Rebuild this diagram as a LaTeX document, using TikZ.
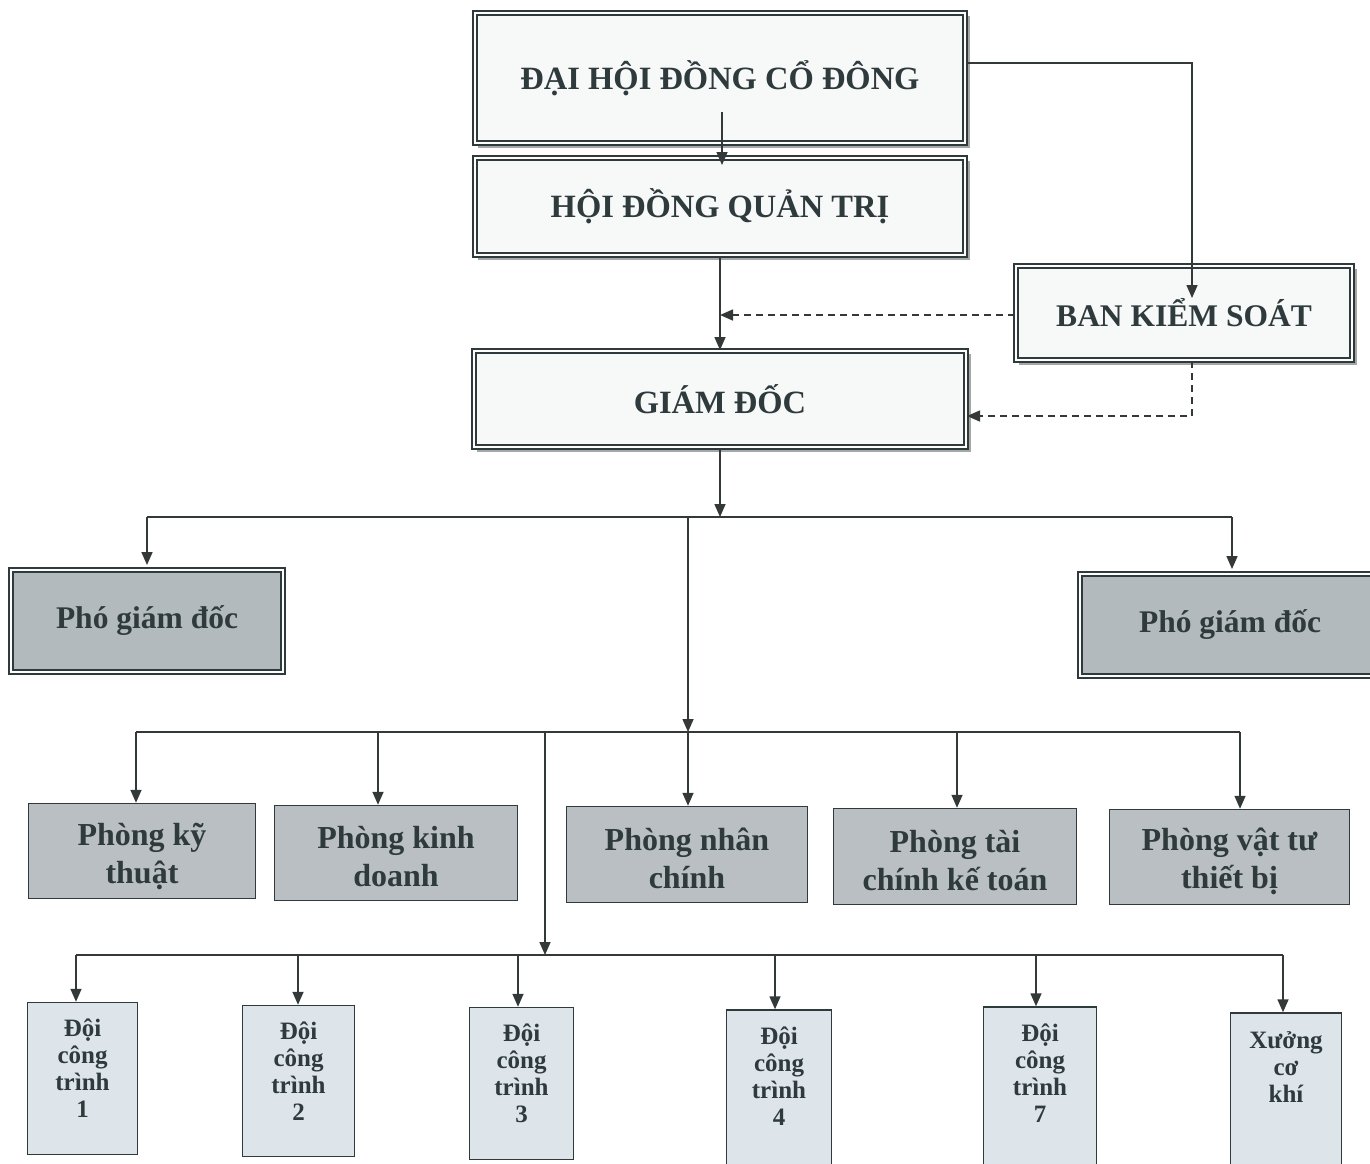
\documentclass[tikz,border=0pt]{standalone}
\usepackage{fontspec}
\setmainfont{Liberation Serif}
\usetikzlibrary{arrows.meta,calc,shadows}
\definecolor{ink}{HTML}{2E3A3C}
\definecolor{linec}{HTML}{333838}
\definecolor{topfill}{HTML}{F7F8F8}
\definecolor{pgdfill}{HTML}{B3BABD}
\definecolor{phfill}{HTML}{B9BFC2}
\definecolor{doifill}{HTML}{DDE5EA}
\begin{document}
\begin{tikzpicture}[x=1pt,y=-1pt,
  every node/.style={text=ink},
  dblbox/.style={draw=ink, inner sep=0pt, align=center, line width=2pt, double=white, double distance=2.4pt},
  topbox/.style={dblbox, fill=topfill, copy shadow={shadow xshift=4pt, shadow yshift=-4pt, draw=gray!70, line width=2pt, fill=white}, font=\fontsize{32.5}{36}\selectfont\bfseries},
  pgdbox/.style={dblbox, fill=pgdfill, font=\fontsize{31.5}{36}\selectfont\bfseries},
  phbox/.style={draw=ink, line width=1.5pt, fill=phfill, inner sep=0pt},
  phtext/.style={inner sep=0pt, align=center, font=\fontsize{32}{38}\selectfont\bfseries},
  doibox/.style={draw=ink, line width=1.5pt, fill=doifill, inner sep=0pt},
  doitext/.style={anchor=north, inner sep=0pt, align=center, font=\fontsize{25}{27}\selectfont\bfseries},
  conn/.style={draw=linec, line width=1.6pt},
  arr/.style={conn, -{Triangle[length=13pt,width=11pt]}},
  dsh/.style={dash pattern=on 7pt off 5pt}]
\useasboundingbox (0,0) rectangle (1370,1163);
\clip (0,0) rectangle (1370,1163);
\fill[white] (0,0) rectangle (1370,1163);

% top boxes
\node[topbox, minimum width=490, minimum height=130] (dh) at (720,78) {ĐẠI HỘI ĐỒNG CỔ ĐÔNG};
\node[topbox, minimum width=490, minimum height=97] (hd) at (720,206.5) {HỘI ĐỒNG QUẢN TRỊ};
\node[topbox, minimum width=336, minimum height=94, font=\fontsize{31.5}{36}\selectfont\bfseries] (bks) at (1184,313) {BAN KIỂM SOÁT};
\node[topbox, minimum width=492, minimum height=96] (gd) at (720,399) {GIÁM ĐỐC};

% pho giam doc
\node[pgdbox, minimum width=272, minimum height=102] (pgd1) at (147,621) {Phó giám đốc};
\node[pgdbox, minimum width=300, minimum height=102] (pgd2) at (1230,625) {Phó giám đốc};

% phong
\node[phbox, minimum width=227, minimum height=95] (pk1) at (142,851) {};
\node[phbox, minimum width=243, minimum height=95] (pk2) at (396,853) {};
\node[phbox, minimum width=241, minimum height=96] (pk3) at (687,854.5) {};
\node[phbox, minimum width=243, minimum height=96] (pk4) at (955,856.5) {};
\node[phbox, minimum width=240, minimum height=95] (pk5) at (1229.5,857) {};
\node[phtext] (pk1t) at ($(pk1.center)+(0,5)$) {Phòng kỹ\\thuật};
\node[phtext] (pk2t) at ($(pk2.center)+(0,4)$) {Phòng kinh\\doanh};
\node[phtext] (pk3t) at ($(pk3.center)+(0,4)$) {Phòng nhân\\chính};
\node[phtext] (pk4t) at ($(pk4.center)+(0,4)$) {Phòng tài\\chính kế toán};
\node[phtext] (pk5t) at ($(pk5.center)+(0,4)$) {Phòng vật tư\\thiết bị};

% doi
\node[doibox, minimum width=110, minimum height=152] (d1) at (82.5,1078.5) {};
\node[doibox, minimum width=112, minimum height=151] (d2) at (298.5,1081) {};
\node[doibox, minimum width=104, minimum height=152] (d3) at (521.5,1083.5) {};
\node[doibox, minimum width=105, minimum height=160] (d4) at (779,1090) {};
\node[doibox, minimum width=113, minimum height=163] (d7) at (1040,1088.5) {};
\node[doibox, minimum width=111, minimum height=157] (xck) at (1286,1091.5) {};
\node[doitext] (d1t) at ($(d1.north)+(0,17)$) {Đội\\công\\trình\\1};
\node[doitext] (d2t) at ($(d2.north)+(0,17)$) {Đội\\công\\trình\\2};
\node[doitext] (d3t) at ($(d3.north)+(0,17)$) {Đội\\công\\trình\\3};
\node[doitext] (d4t) at ($(d4.north)+(0,17)$) {Đội\\công\\trình\\4};
\node[doitext] (d7t) at ($(d7.north)+(0,17)$) {Đội\\công\\trình\\7};
\node[doitext] (xckt) at ($(xck.north)+(0,19)$) {Xưởng\\cơ\\khí};

% top connectors
\draw[arr] ($(dh.center)+(2,34)$) -- ($(hd.north)+(2,8)$);
\draw[arr] ($(dh.east)+(0,-15)$) -| ($(bks.north)+(8,33)$);
\draw[arr] (hd.south) -- (gd.north);
\coordinate (m1) at ($(hd.south |- bks.west)+(0,2)$);
\draw[arr, dsh] ($(bks.west)+(0,2)$) -- (m1);
\draw[arr, dsh] ($(bks.south)+(8,0)$) |- ($(gd.east)+(0,17)$);

% bus 1
\coordinate (b1c) at (720,517);
\coordinate (b1l) at (147,517);
\coordinate (b1r) at (1232,517);
\coordinate (b1m) at (688,517);
\draw[arr] (gd.south) -- (b1c);
\draw[conn] (b1l) -- (b1r);
\draw[arr] (b1l) -- ($(b1l |- pgd1.north)+(0,-4)$);
\draw[arr] (b1r) -- ($(b1r |- pgd2.north)+(0,-4)$);

% bus 2
\coordinate (b2m) at (688,732);
\coordinate (t1) at (136,732);
\coordinate (t2) at (378,732);
\coordinate (t4) at (957,732);
\coordinate (t5) at (1240,732);
\coordinate (b2s) at (545,732);
\draw[arr] (b1m) -- (b2m);
\draw[conn] (t1) -- (t5);
\draw[arr] (t1) -- (t1 |- pk1.north);
\draw[arr] (t2) -- (t2 |- pk2.north);
\draw[arr] (b2m) -- (b2m |- pk3.north);
\draw[arr] (t4) -- (t4 |- pk4.north);
\draw[arr] (t5) -- (t5 |- pk5.north);

% bus 3
\coordinate (b3m) at (545,955);
\coordinate (u1) at (76,955);
\coordinate (u2) at (298,955);
\coordinate (u3) at (518,955);
\coordinate (u4) at (775,955);
\coordinate (u7) at (1036,955);
\coordinate (u8) at (1283,955);
\draw[arr] (b2s) -- (b3m);
\draw[conn] (u1) -- (u8);
\draw[arr] (u1) -- (u1 |- d1.north);
\draw[arr] (u2) -- (u2 |- d2.north);
\draw[arr] (u3) -- (u3 |- d3.north);
\draw[arr] (u4) -- (u4 |- d4.north);
\draw[arr] (u7) -- (u7 |- d7.north);
\draw[arr] (u8) -- (u8 |- xck.north);
\end{tikzpicture}
\end{document}
